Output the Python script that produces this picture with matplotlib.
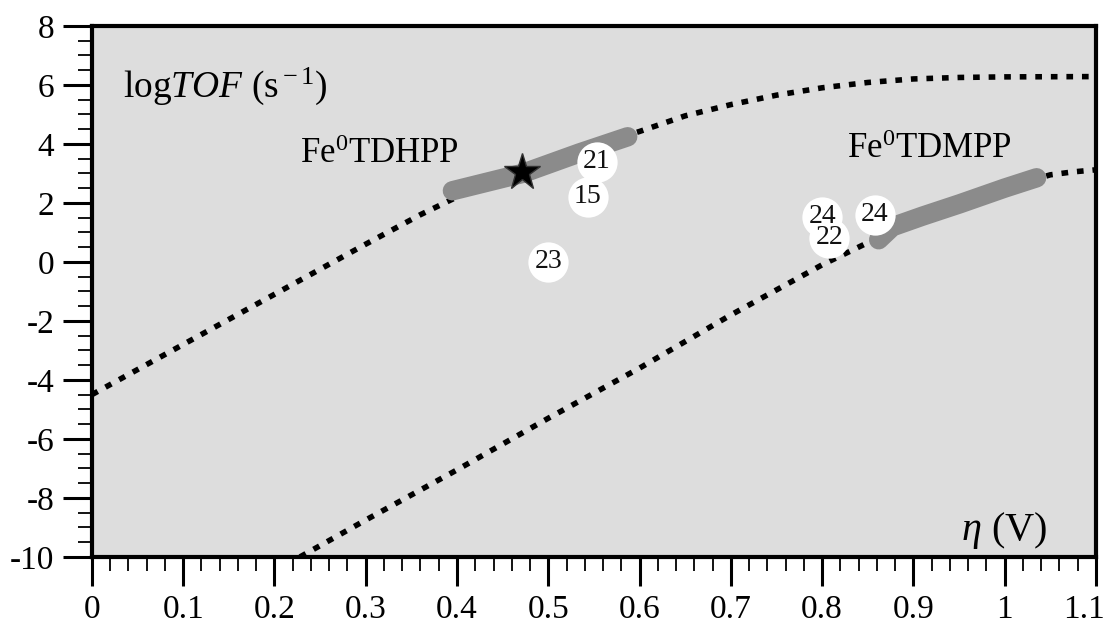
import matplotlib
matplotlib.use("Agg")
import matplotlib.pyplot as plt
from matplotlib.ticker import MultipleLocator, FuncFormatter
from matplotlib.transforms import ScaledTranslation

plt.rcParams['font.family'] = ['Liberation Serif', 'DejaVu Serif']
plt.rcParams['mathtext.fontset'] = 'custom'
plt.rcParams['mathtext.rm'] = 'Liberation Serif'
plt.rcParams['mathtext.it'] = 'Liberation Serif:italic'
plt.rcParams['axes.unicode_minus'] = False

# Dotted Tafel curves (eta in V, logTOF)
tdhpp_eta = [0.00, 0.10, 0.20, 0.30, 0.36, 0.40, 0.45, 0.50, 0.55, 0.60, 0.65, 0.70,
             0.75, 0.80, 0.85, 0.90, 0.95, 1.00, 1.10]
tdhpp_log = [-4.5, -2.8, -1.1, 0.6, 1.6, 2.2, 2.85, 3.45, 3.95, 4.42, 4.95, 5.33,
             5.65, 5.9, 6.08, 6.2, 6.25, 6.27, 6.28]
tdmpp_eta = [0.228, 0.30, 0.40, 0.50, 0.60, 0.70, 0.80, 0.85, 0.877, 0.91, 0.95,
             1.00, 1.05, 1.075, 1.10]
tdmpp_log = [-10.0, -8.75, -7.05, -5.3, -3.6, -1.8, -0.1, 0.65, 1.1, 1.55, 1.97,
             2.5, 2.95, 3.05, 3.12]

# Thick grey experimental segments
band1_eta = [0.395, 0.472, 0.534, 0.587]
band1_log = [2.41, 3.0, 3.69, 4.24]
band2_eta = [0.862, 0.877, 0.91, 0.951, 1.0, 1.035]
band2_log = [0.75, 1.19, 1.55, 1.97, 2.5, 2.85]

# Literature points (reference numbers)
ref_eta = [0.553, 0.543, 0.50, 0.80, 0.808, 0.858]
ref_log = [3.39, 2.2, 0.0, 1.53, 0.81, 1.6]
ref_lab = ['21', '15', '23', '24', '22', '24']

star_eta = [0.471]
star_log = [3.05]

xticks = [0, 0.1, 0.2, 0.3, 0.4, 0.5, 0.6, 0.7, 0.8, 0.9, 1.0, 1.1]
yticks = [-10, -8, -6, -4, -2, 0, 2, 4, 6, 8]

fig = plt.figure(figsize=(11.07, 6.30), dpi=100)
ax = fig.add_axes([0.083, 0.116, 0.907, 0.843])
ax.set_facecolor('#dddddd')
ax.set_xlim(0, 1.1)
ax.set_ylim(-10, 8)

dot = (0, (1.2, 1.6))
ax.plot(tdhpp_eta, tdhpp_log, color='black', lw=4, linestyle=dot, dash_capstyle='butt', zorder=2)
ax.plot(tdmpp_eta, tdmpp_log, color='black', lw=4, linestyle=dot, dash_capstyle='butt', zorder=2)

ax.plot(band1_eta, band1_log, color='#8b8b8b', lw=14, solid_capstyle='round', zorder=3)
ax.plot(band2_eta, band2_log, color='#8b8b8b', lw=14, solid_capstyle='round', zorder=3)

for i in [3, 4, 0, 1, 2, 5]:
    ax.plot([ref_eta[i]], [ref_log[i]], marker='o', ms=29, color='white', mec='none', zorder=4)
for i in range(len(ref_lab)):
    ax.text(ref_eta[i], ref_log[i], ref_lab[i], fontsize=20, ha='center', va='center',
            color='#111111', zorder=5)

ax.plot(star_eta, star_log, marker='*', ms=28, color='black', mec='#333333', zorder=6)

ax.text(0.034, 5.59, r'log$\it{TOF}$ (s$^{\rm -1}$)', fontsize=27, ha='left', va='baseline')
ax.text(0.228, 3.36, r'Fe$^{\rm 0}$TDHPP', fontsize=25, ha='left', va='baseline')
ax.text(0.827, 3.53, r'Fe$^{\rm 0}$TDMPP', fontsize=25, ha='left', va='baseline')
ax.text(1.047, -9.42, r'$\it{\eta}$ (V)', fontsize=29, ha='right', va='baseline')

ax.set_xticks(xticks)
ax.set_yticks(yticks)
ax.xaxis.set_minor_locator(MultipleLocator(0.02))
ax.yaxis.set_minor_locator(MultipleLocator(0.5))
ax.xaxis.set_major_formatter(FuncFormatter(lambda v, p: f'{v:g}'))
ax.yaxis.set_major_formatter(FuncFormatter(lambda v, p: f'{int(round(v))}'))
ax.tick_params(axis='both', which='major', direction='out', length=21, width=2.2,
               labelsize=24, pad=6)
ax.tick_params(axis='both', which='minor', direction='out', length=10, width=1.3)
for s in ax.spines.values():
    s.set_linewidth(3)

last = ax.xaxis.get_major_ticks()[-1].label1
last.set_transform(last.get_transform() + ScaledTranslation(-12 / 100, 0, fig.dpi_scale_trans))

fig.savefig('out.png', dpi=100)
